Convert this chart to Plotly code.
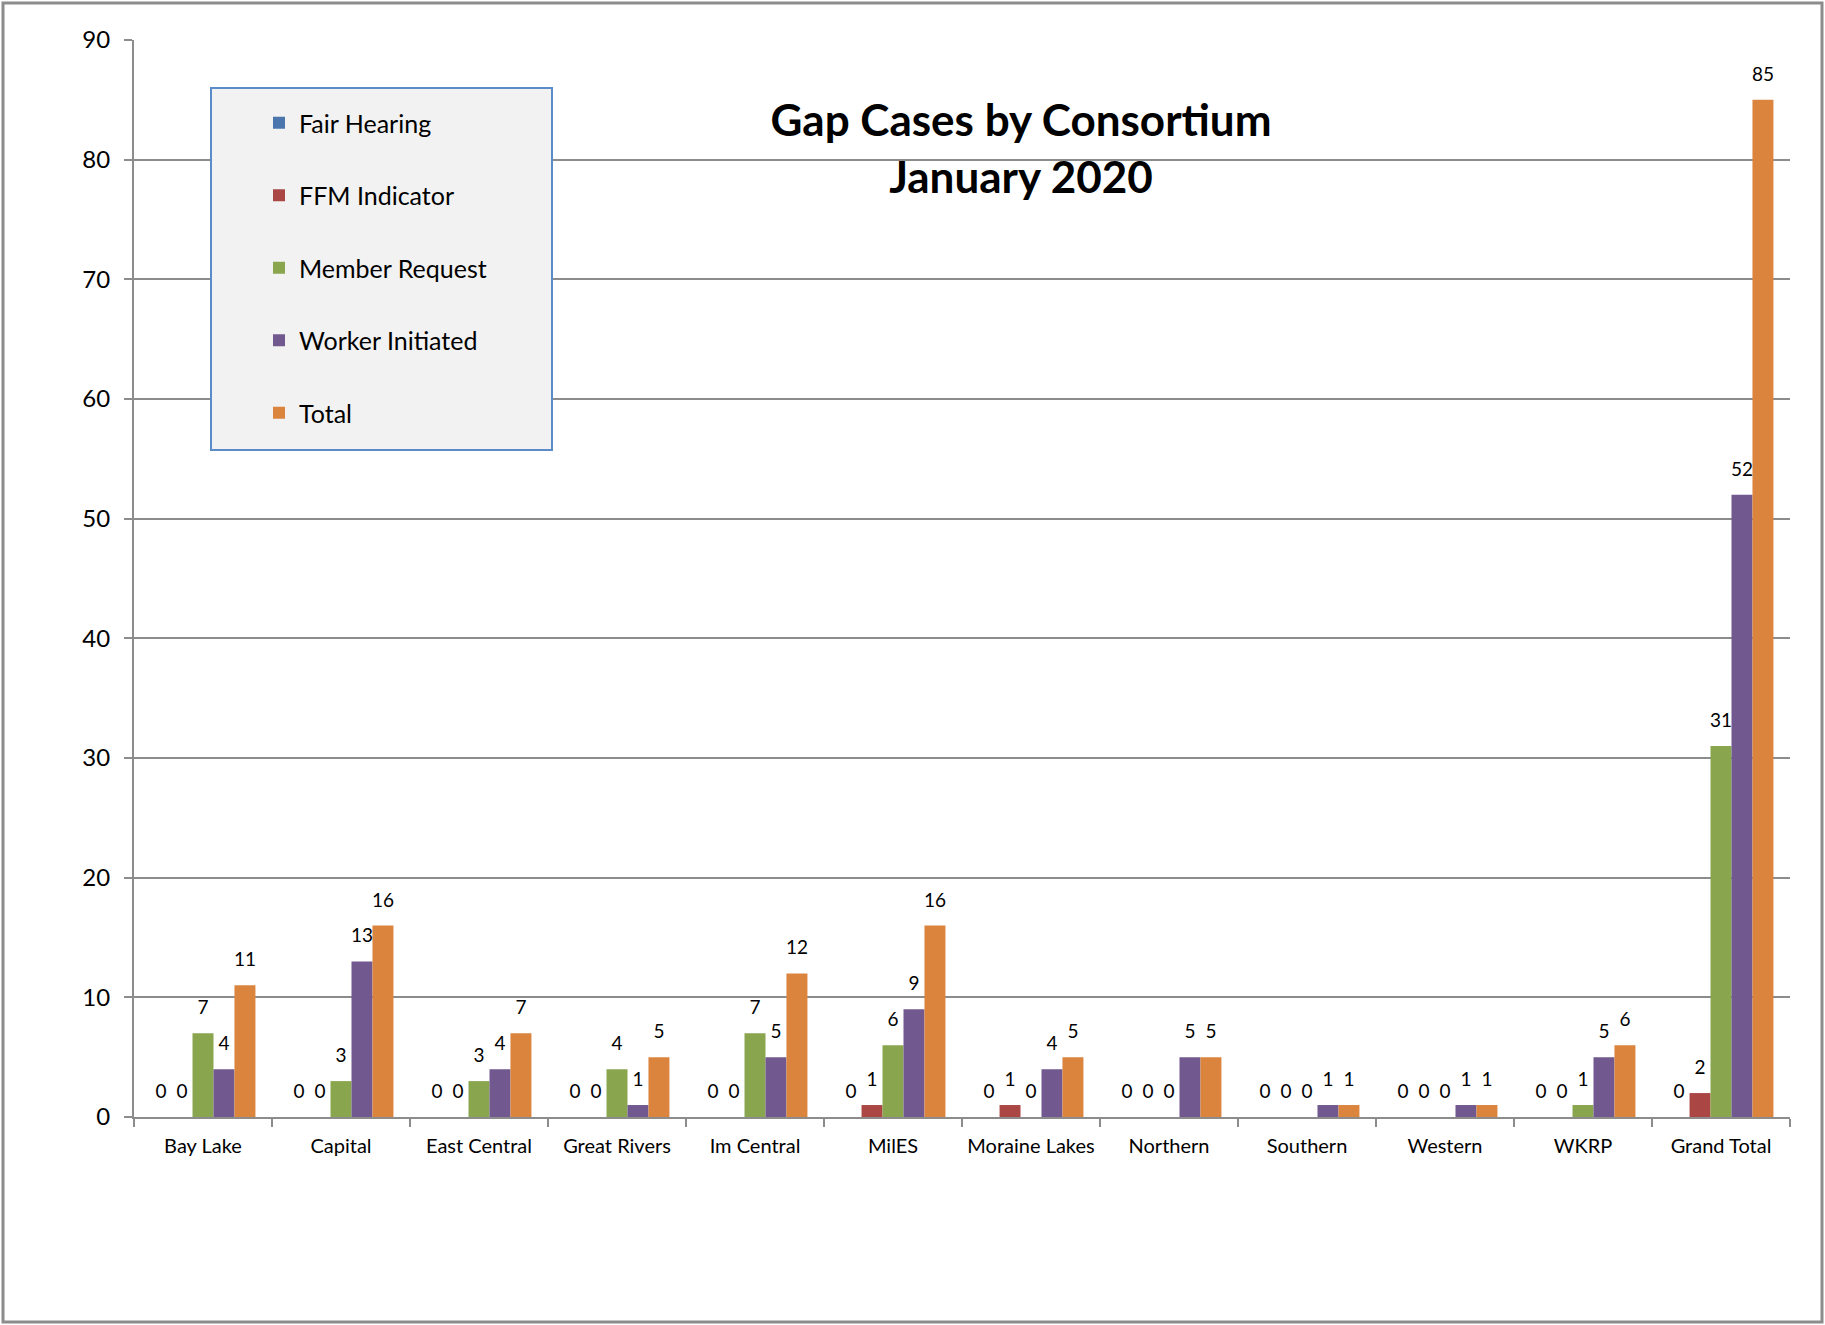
import plotly.graph_objects as go

categories = ["Bay Lake", "Capital", "East Central", "Great Rivers", "Im Central", "MilES",
              "Moraine Lakes", "Northern", "Southern", "Western", "WKRP", "Grand Total"]
fair_hearing = [0, 0, 0, 0, 0, 0, 0, 0, 0, 0, 0, 0]
ffm_indicator = [0, 0, 0, 0, 0, 1, 1, 0, 0, 0, 0, 2]
member_request = [7, 3, 3, 4, 7, 6, 0, 0, 0, 0, 1, 31]
worker_initiated = [4, 13, 4, 1, 5, 9, 4, 5, 1, 1, 5, 52]
total = [11, 16, 7, 5, 12, 16, 5, 5, 1, 1, 6, 85]

series = [
    ("Fair Hearing", fair_hearing, "#4A76AD"),
    ("FFM Indicator", ffm_indicator, "#AA4643"),
    ("Member Request", member_request, "#89A54E"),
    ("Worker Initiated", worker_initiated, "#71588F"),
    ("Total", total, "#DB843D"),
]

# body margin is removed in the page (post_script), so figure pixels == page pixels
W, H = 1825, 1325
PLOT_L, PLOT_R, PLOT_T, PLOT_B = 134, 1790, 40, 1117
ML, MT = PLOT_L, PLOT_T
MR = W - PLOT_R
MB = H - PLOT_B
PW, PH = W - ML - MR, H - MT - MB

def px_x(p):
    return (p - ML) / PW

def px_y(p):
    return (H - MB - p) / PH

FONT = "Lato, 'Open Sans', sans-serif"
LABEL_PAD = 1.0  # data-unit gap between bar top and its label

fig = go.Figure()
for name, vals, color in series:
    fig.add_trace(go.Bar(
        name=name, x=categories, y=vals, marker=dict(color=color, line=dict(width=0)),
        offsetgroup=name, legendgroup=name, hoverinfo="skip",
    ))
for name, vals, color in series:
    # label carriers: transparent bars stacked on each value, sharing the real bar's slot
    fig.add_trace(go.Bar(
        x=categories, y=[LABEL_PAD] * len(vals), base=vals, offsetgroup=name,
        marker=dict(color="rgba(0,0,0,0)", line=dict(width=0)),
        text=[str(v) for v in vals], textposition="outside", textangle=0,
        constraintext="none", cliponaxis=False,
        textfont=dict(family=FONT, size=19, color="#000000"),
        showlegend=False, hoverinfo="skip",
    ))

fig.update_layout(
    width=W, height=H, autosize=False,
    margin=dict(l=ML, r=MR, t=MT, b=MB, pad=0),
    paper_bgcolor="white", plot_bgcolor="white",
    barmode="group", bargap=0.24, bargroupgap=0,
    font=dict(family=FONT, color="#000000"),
    title=dict(
        text="<b>Gap Cases by Consortium<br>January 2020</b>",
        xref="paper", yref="paper", x=px_x(1021), y=px_y(136),
        xanchor="center", yanchor="middle",
        font=dict(family=FONT, size=44, color="#000000"),
    ),
    showlegend=True,
    legend=dict(
        x=px_x(259), y=px_y(100), xanchor="left", yanchor="top",
        bgcolor="rgba(0,0,0,0)", borderwidth=0,
        font=dict(family=FONT, size=25, color="#000000"),
        traceorder="grouped", tracegroupgap=37,
    ),
    xaxis=dict(
        type="category", showline=True, linecolor="#8C8C8C", linewidth=2,
        ticks="outside", tickson="boundaries", ticklen=8, tickwidth=2, tickcolor="#8C8C8C",
        showgrid=False, tickfont=dict(family=FONT, size=20, color="#000000"),
        ticklabelstandoff=10,
    ),
    yaxis=dict(
        range=[0, 90], dtick=10, showline=True, linecolor="#8C8C8C", linewidth=2,
        ticks="outside", ticklen=8, tickwidth=2, tickcolor="#8C8C8C",
        showgrid=True, gridcolor="#8C8C8C", gridwidth=2, zeroline=False,
        tickfont=dict(family=FONT, size=24, color="#000000"),
        ticklabelstandoff=9,
    ),
    shapes=[
        dict(type="rect", xref="paper", yref="paper",
             x0=px_x(211), x1=px_x(552), y0=px_y(450), y1=px_y(88),
             fillcolor="#F2F2F2", line=dict(color="#5B8BC9", width=2), layer="above"),
        dict(type="rect", xref="paper", yref="paper",
             x0=px_x(3), x1=px_x(1822), y0=px_y(1322), y1=px_y(3),
             fillcolor="rgba(0,0,0,0)", line=dict(color="#8C8C8C", width=3), layer="above"),
    ],
)

fig.write_html(
    "out.html",
    config={"displayModeBar": False},
    post_script="document.body.style.margin='0';document.body.style.overflow='hidden';",
)
